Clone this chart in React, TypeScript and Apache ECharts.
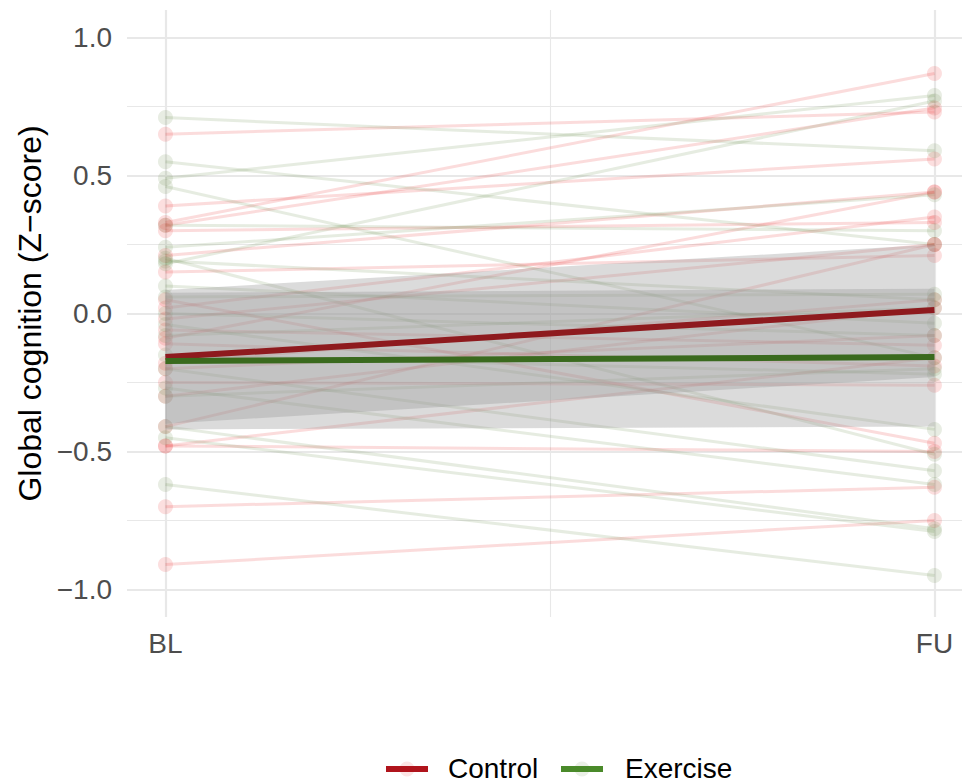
import React, { useEffect, useRef } from "react";
import * as echarts from "echarts";

const timeLabels = ["BL", "FU"];
const timeValues = [1, 2];
const yTicks = [-1, -0.5, 0, 0.5, 1];
const yMinorTicks = [-0.75, -0.25, 0.25, 0.75];

const controlBL = [0.65, 0.33, 0.32, 0.39, 0.30, 0.21, 0.15, 0.02, -0.02, -0.06, -0.09, -0.11, -0.18, -0.25, -0.30, -0.41, -0.48, -0.70, -0.91, 0.05, -0.48, -0.20];
const controlFU = [0.73, 0.87, 0.745, 0.56, 0.33, 0.44, 0.21, 0.35, 0.25, -0.115, 0.44, -0.19, 0.05, -0.26, 0.02, 0.25, -0.50, -0.63, -0.75, -0.47, -0.16, -0.08];

const exerciseBL = [0.71, 0.55, 0.49, 0.46, 0.32, 0.24, 0.18, 0.19, 0.10, 0.06, -0.04, -0.20, -0.27, -0.41, -0.62, -0.45, -0.15, 0.0, -0.08, 0.20, -0.30];
const exerciseFU = [0.59, 0.25, 0.79, -0.16, 0.30, 0.43, 0.77, 0.05, -0.035, 0.07, -0.42, -0.57, -0.62, -0.78, -0.95, -0.79, -0.22, -0.08, 0.02, -0.51, -0.20];

const controlMean = [-0.158, 0.013];
const controlLow = [-0.40, -0.23];
const controlHigh = [0.085, 0.25];
const exerciseMean = [-0.172, -0.158];
const exerciseLow = [-0.42, -0.41];
const exerciseHigh = [0.075, 0.09];

const FONT = "'Liberation Sans', Arial, Helvetica, sans-serif";
const GRID = "#e8e8e8";

function fmtMinus(v: number) {
  return v.toFixed(1).replace("-", "\u2212");
}

export default function App() {
  const ref = useRef<HTMLDivElement>(null);
  useEffect(() => {
    if (!ref.current) return;
    const chart = echarts.init(ref.current, undefined, { renderer: "svg" });

    const subjectSeries = (bl: number[], fu: number[], lineColor: string, pointColor: string) =>
      bl.map((b, i) => ({
        type: "line",
        silent: true,
        data: [
          [timeValues[0], b],
          [timeValues[1], fu[i]],
        ],
        symbol: "circle",
        symbolSize: 15,
        showSymbol: true,
        lineStyle: { color: lineColor, width: 3 },
        itemStyle: { color: pointColor, borderWidth: 0 },
        z: 2,
      }));

    const ribbon = (low: number[], high: number[]) => ({
      type: "custom",
      silent: true,
      z: 3,
      data: [[timeValues[0], low[0]]],
      encode: { x: 0, y: 1 },
      renderItem: (params: any, api: any) => {
        const pts: number[][] = [];
        for (let i = 0; i < timeValues.length; i++) pts.push(api.coord([timeValues[i], high[i]]));
        for (let i = timeValues.length - 1; i >= 0; i--) pts.push(api.coord([timeValues[i], low[i]]));
        return {
          type: "polygon",
          shape: { points: pts },
          style: { fill: "rgba(153,153,153,0.35)", stroke: "none" },
        };
      },
    });

    const meanLine = (vals: number[], color: string) => ({
      type: "line",
      silent: true,
      data: vals.map((v, i) => [timeValues[i], v]),
      symbol: "none",
      lineStyle: { color, width: 6 },
      z: 4,
    });

    const gridLines = {
      type: "line",
      silent: true,
      data: [],
      z: 1,
      markLine: {
        silent: true,
        z: 1,
        symbol: ["none", "none"],
        label: { show: false },
        animation: false,
        data: [
          ...yTicks.map((v) => ({ yAxis: v, lineStyle: { color: GRID, width: 2.2, type: "solid" } })),
          ...yMinorTicks.map((v) => ({ yAxis: v, lineStyle: { color: GRID, width: 1.1, type: "solid" } })),
          ...timeValues.map((v) => ({ xAxis: v, lineStyle: { color: GRID, width: 2.2, type: "solid" } })),
          { xAxis: (timeValues[0] + timeValues[1]) / 2, lineStyle: { color: GRID, width: 1.1, type: "solid" } },
        ],
      },
    };

    const legendY = 768;
    const option: any = {
      animation: false,
      backgroundColor: "#ffffff",
      textStyle: { fontFamily: FONT },
      grid: { left: 127, top: 10, width: 835, height: 607, containLabel: false },
      xAxis: {
        type: "value",
        min: 0.95,
        max: 0.95 + 835 / 769,
        axisLine: { show: false },
        axisTick: { show: false },
        splitLine: { show: false },
        axisLabel: {
          customValues: timeValues,
          formatter: (v: number) => timeLabels[timeValues.indexOf(Math.round(v))] || "",
          fontSize: 28,
          fontFamily: FONT,
          color: "#4d4d4d",
          margin: 12,
        },
      },
      yAxis: {
        type: "value",
        min: -1.1,
        max: 1.1,
        axisLine: { show: false },
        axisTick: { show: false },
        splitLine: { show: false },
        axisLabel: {
          customValues: yTicks,
          formatter: (v: number) => fmtMinus(v),
          fontSize: 28,
          fontFamily: FONT,
          color: "#4d4d4d",
          margin: 15,
        },
        name: "Global cognition (Z\u2212score)",
        nameLocation: "middle",
        nameGap: 80,
        nameTextStyle: { fontSize: 32, fontFamily: FONT, color: "#000000" },
      },
      series: [
        gridLines,
        ...subjectSeries(controlBL, controlFU, "rgba(232,40,40,0.16)", "rgba(232,40,40,0.15)"),
        ...subjectSeries(exerciseBL, exerciseFU, "rgba(90,130,55,0.15)", "rgba(90,130,55,0.14)"),
        ribbon(controlLow, controlHigh),
        meanLine(controlMean, "#8e1a1e"),
        ribbon(exerciseLow, exerciseHigh),
        meanLine(exerciseMean, "#3a6a1e"),
      ],
      graphic: [
        { type: "circle", shape: { cx: 407, cy: legendY + 1, r: 7.5 }, style: { fill: "rgba(232,40,40,0.12)" } },
        { type: "line", shape: { x1: 386, y1: legendY + 1, x2: 428, y2: legendY + 1 }, style: { stroke: "#b0141c", lineWidth: 6 } },
        { type: "text", x: 448, y: legendY, style: { text: "Control", fontSize: 28, fontFamily: FONT, fill: "#000000", verticalAlign: "middle", align: "left" } },
        { type: "circle", shape: { cx: 582, cy: legendY + 1, r: 7.5 }, style: { fill: "rgba(90,130,55,0.12)" } },
        { type: "line", shape: { x1: 561, y1: legendY + 1, x2: 603, y2: legendY + 1 }, style: { stroke: "#4a8a2a", lineWidth: 6 } },
        { type: "text", x: 625, y: legendY, style: { text: "Exercise", fontSize: 28, fontFamily: FONT, fill: "#000000", verticalAlign: "middle", align: "left" } },
      ],
    };
    chart.setOption(option);
    return () => chart.dispose();
  }, []);
  return <div ref={ref} style={{ width: 962, height: 784, position: "absolute", left: 0, top: 0 }} />;
}
